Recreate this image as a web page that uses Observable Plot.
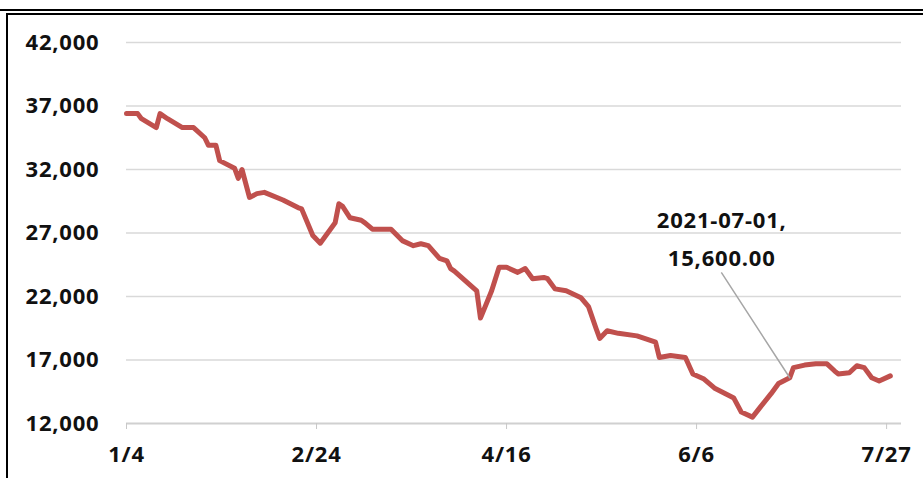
<!DOCTYPE html>
<html><head><meta charset="utf-8">
<script src="https://cdn.jsdelivr.net/npm/d3@7"></script>
<script src="https://cdn.jsdelivr.net/npm/@observablehq/plot@0.6"></script>
<style>
html,body{margin:0;padding:0;background:#fff;width:923px;height:478px;overflow:hidden;}
#wrap{position:relative;width:923px;height:478px;}
#chart{position:absolute;left:0;top:0;}
.b{position:absolute;background:#000;}
</style></head><body>
<div id="wrap"><div id="chart"></div>
<div class="b" style="left:0;top:9px;width:923px;height:2px"></div>
<div class="b" style="left:6px;top:13px;width:917px;height:2px"></div>
<div class="b" style="left:6px;top:13px;width:2px;height:465px"></div>
</div>
<script>
const dates = ["2021-01-04","2021-01-07","2021-01-08","2021-01-12","2021-01-13","2021-01-15","2021-01-19","2021-01-22","2021-01-25","2021-01-26","2021-01-28","2021-01-29",
"2021-02-02","2021-02-03","2021-02-04","2021-02-06","2021-02-08","2021-02-10","2021-02-15","2021-02-19","2021-02-20","2021-02-23","2021-02-25",
"2021-03-01","2021-03-02","2021-03-03","2021-03-05","2021-03-08","2021-03-09","2021-03-11","2021-03-16","2021-03-19","2021-03-22","2021-03-24","2021-03-26","2021-03-29","2021-03-31",
"2021-04-01","2021-04-02","2021-04-07","2021-04-08","2021-04-09","2021-04-12","2021-04-14","2021-04-16","2021-04-19","2021-04-21","2021-04-23","2021-04-26","2021-04-27","2021-04-29",
"2021-05-02","2021-05-06","2021-05-08","2021-05-10","2021-05-11","2021-05-13","2021-05-16","2021-05-21","2021-05-26","2021-05-27","2021-05-30",
"2021-06-03","2021-06-05","2021-06-08","2021-06-11","2021-06-16","2021-06-18","2021-06-21","2021-06-23","2021-06-26","2021-06-28",
"2021-07-01","2021-07-02","2021-07-05","2021-07-08","2021-07-11","2021-07-13","2021-07-14","2021-07-17","2021-07-19","2021-07-21","2021-07-23","2021-07-25","2021-07-28"];
const values = [36400,36400,36000,35300,36400,36000,35300,35300,34500,33900,33900,32700,
32100,31300,32000,29800,30100,30200,29600,29000,28900,26800,26200,
27800,29300,29100,28200,28000,27800,27300,27300,26400,26000,26150,26000,25000,24800,
24200,24000,22700,22450,20300,22450,24300,24300,23900,24200,23400,23500,23400,22600,
22450,21900,21200,19500,18700,19300,19100,18900,18400,17200,17350,
17200,15900,15500,14750,14000,12900,12500,13250,14350,15150,
15600,16400,16600,16700,16700,16150,15900,16000,16550,16400,15600,15350,15750];
const yTicks = [12000,17000,22000,27000,32000,37000,42000];
const xTicks = ["2021-01-04","2021-02-24","2021-04-16","2021-06-06","2021-07-27"];
const xDomain = ["2021-01-04","2021-07-31"];
const noteDate = "2021-07-01";
const noteValue = 15600;

const parse = d3.utcParse("%Y-%m-%d");
const data = dates.map((d,i)=>({date: parse(d), value: values[i]}));
const note = [{date: parse(noteDate), value: noteValue, label: `${noteDate},\n${d3.format(",.2f")(noteValue)}`}];
const fmtDate = d => `${d.getUTCMonth()+1}/${d.getUTCDate()}`;
const lineShape = {draw(context, l) { context.moveTo(0, 0); context.lineTo(0, -l); }};

const chart = Plot.plot({
  width: 923, height: 478,
  marginLeft: 126, marginRight: 22, marginTop: 42, marginBottom: 55,
  style: {fontFamily: "'Open Sans', sans-serif", fontSize: "22px", fontWeight: 700, letterSpacing: "0.8px", color: "#111", background: "transparent", overflow: "visible"},
  x: {type: "utc", domain: xDomain.map(parse)},
  y: {domain: [yTicks[0], yTicks[yTicks.length-1]]},
  marks: [
    Plot.ruleY(yTicks.slice(1), {stroke: "#d9d9d9", strokeWidth: 1.5}),
    Plot.ruleY([yTicks[0]], {stroke: "#d0d0d0", strokeWidth: 2}),
    Plot.axisY({ticks: yTicks, tickFormat: d3.format(","), tickSize: 0, tickPadding: 27, label: null, fill: "#111"}),
    Plot.axisX({ticks: xTicks.map(parse), tickFormat: fmtDate, tickSize: 6, tickPadding: 17, stroke: "#c8c8c8", fill: "#111", label: null}),
    Plot.lineY(data, {x: "date", y: "value", stroke: "#c0504d", strokeWidth: 5, strokeLinejoin: "round", strokeLinecap: "round"}),
    Plot.vector(note, {x: "date", y: "value", length: 125, rotate: -33, anchor: "start", stroke: "#a6a6a6", strokeWidth: 1.5, shape: lineShape}),
    Plot.text(note, {x: "date", y: "value", text: "label", dx: -68, dy: -143, lineHeight: 1.75, fill: "#111"})
  ]
});
document.getElementById("chart").appendChild(chart);
</script>
</body></html>
